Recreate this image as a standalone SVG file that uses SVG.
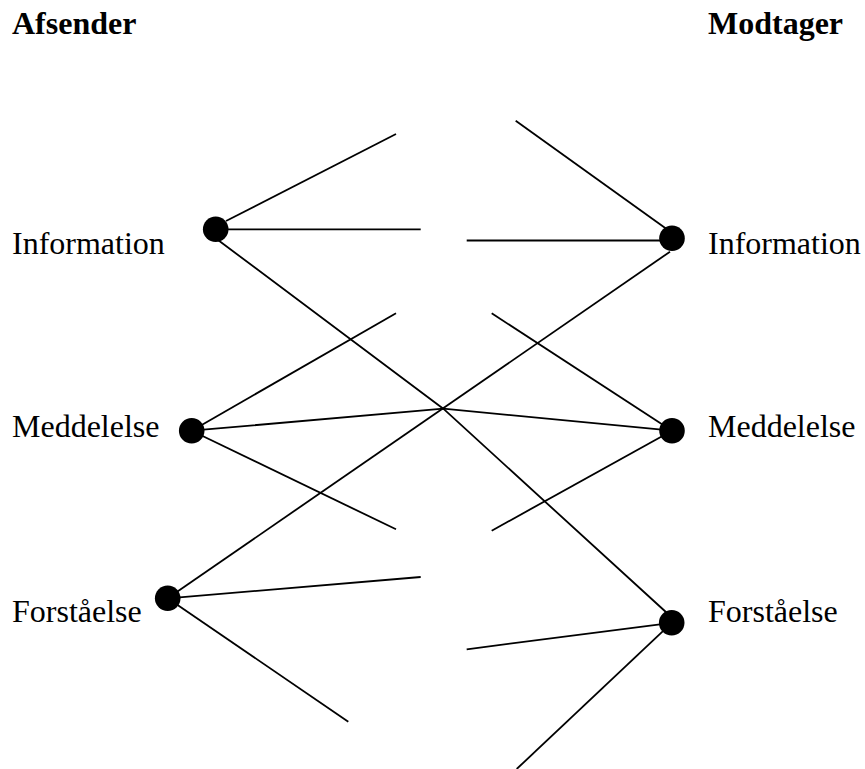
<svg xmlns="http://www.w3.org/2000/svg" width="865" height="769" viewBox="0 0 865 769">
<style>
text{font-family:"Liberation Serif","Times New Roman",serif;font-size:32px;fill:#000}
.h{font-weight:bold}
.c line,.c polyline{stroke:#000;stroke-width:1.8;fill:none}
.n circle{fill:#000}
</style>
<rect width="865" height="769" fill="#fff"/>
<text class="h" x="12" y="33.5">Afsender</text>
<text class="h" x="708" y="33.5">Modtager</text>
<g class="c" id="connectors">
<line x1="226" y1="221" x2="396" y2="134"/>
<line x1="216" y1="229.3" x2="420.7" y2="229.3"/>
<polyline points="218,240 443.3,408.7 667,613"/>
<line x1="515.7" y1="120.7" x2="668" y2="230"/>
<line x1="466.7" y1="240.5" x2="672" y2="240.5"/>
<line x1="167.7" y1="598.3" x2="670" y2="251.7"/>
<line x1="191.7" y1="430.7" x2="396" y2="313.3"/>
<line x1="191.7" y1="430.7" x2="396" y2="529.3"/>
<polyline points="191.7,430.7 443.3,408.7 672,430.7"/>
<line x1="491.7" y1="313.3" x2="672" y2="430.7"/>
<line x1="491.7" y1="530.7" x2="672" y2="430.7"/>
<line x1="167.7" y1="598.3" x2="420.7" y2="577"/>
<line x1="167.7" y1="598.3" x2="348.3" y2="721.7"/>
<line x1="466.7" y1="649.3" x2="671.7" y2="622.8"/>
<line x1="516.7" y1="769" x2="671.7" y2="622.8"/>
</g>
<g class="n" id="afsender-information"><circle cx="215.7" cy="229.3" r="12.8"/><text x="12" y="254">Information</text></g>
<g class="n" id="afsender-meddelelse"><circle cx="191.7" cy="430.7" r="12.8"/><text x="12" y="437">Meddelelse</text></g>
<g class="n" id="afsender-forstaaelse"><circle cx="167.7" cy="598.3" r="12.8"/><text x="12" y="621.7">Forståelse</text></g>
<g class="n" id="modtager-information"><circle cx="672" cy="238.3" r="12.8"/><text x="708" y="254">Information</text></g>
<g class="n" id="modtager-meddelelse"><circle cx="672" cy="430.7" r="12.8"/><text x="708" y="437">Meddelelse</text></g>
<g class="n" id="modtager-forstaaelse"><circle cx="671.7" cy="622.8" r="12.8"/><text x="708" y="621.7">Forståelse</text></g>
</svg>
